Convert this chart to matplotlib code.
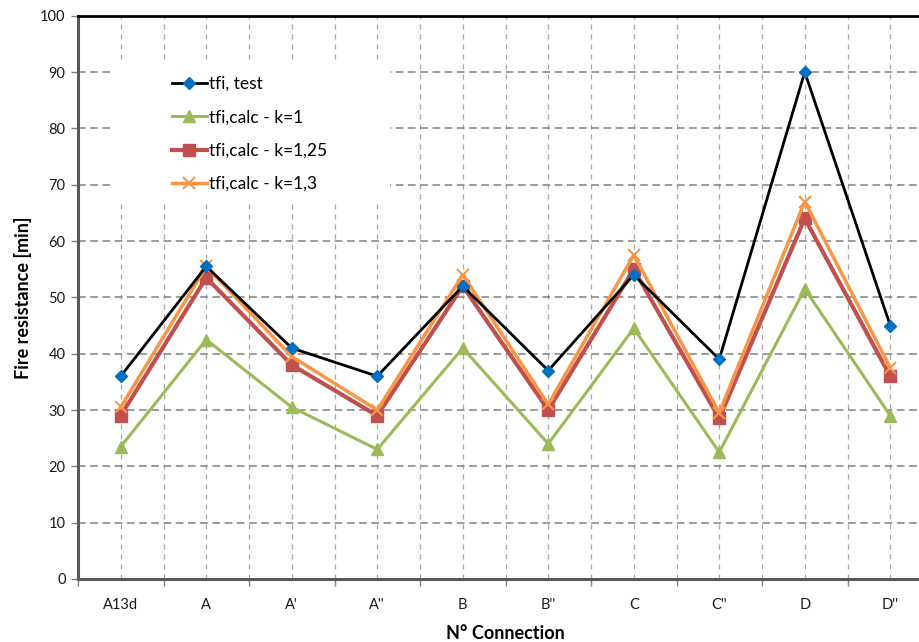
import matplotlib
matplotlib.use("Agg")
import matplotlib.pyplot as plt
from matplotlib.patches import Rectangle
import numpy as np

plt.rcParams['font.family'] = ['Lato', 'DejaVu Sans']

categories = ["A13d", "A", "A'", "A''", "B", "B''", "C", "C''", "D", "D''"]
tfi_test = [36, 55.5, 41, 36, 52, 37, 54, 39, 90, 45]
tfi_k1 = [23.5, 42.5, 30.5, 23, 41, 24, 44.5, 22.5, 51.5, 29]
tfi_k125 = [29, 53.5, 38, 29, 52, 30, 55, 28.5, 64, 36]
tfi_k13 = [30.5, 55.5, 39.5, 30, 54, 31, 57.5, 29.5, 67, 37.5]
series_labels = ["tfi, test", "tfi,calc - k=1", "tfi,calc - k=1,25", "tfi,calc - k=1,3"]

fig = plt.figure(figsize=(9.19, 6.42), dpi=100)
ax = fig.add_axes([78/919, 1-579/642, 855/919, (579-15.7)/642])

x = np.arange(len(categories))

# grid
for v in np.arange(-0.5, len(categories), 0.5):
    ax.axvline(v, color='#a6a6a6', lw=0.9, ls=(0, (4, 4)), zorder=0)
for yv in range(10, 100, 10):
    ax.axhline(yv, color='#808080', lw=1.1, ls=(0, (5, 3)), zorder=0)

# white legend area hiding the grid
ax.add_patch(Rectangle((0.0374, 0.673), 0.328, 0.248, transform=ax.transAxes,
                       facecolor='white', edgecolor='none', zorder=1))

ax.plot(x, tfi_test, color='black', lw=2, marker='D', ms=6,
        mfc='#0070c0', mec='#0070c0', label=series_labels[0], zorder=5)
ax.plot(x, tfi_k1, color='#9bbb59', lw=2.2, marker='^', ms=8,
        mfc='#9bbb59', mec='#9bbb59', label=series_labels[1], zorder=3)
ax.plot(x, tfi_k125, color='#c0504d', lw=3, marker='s', ms=9,
        mfc='#c0504d', mec='#c0504d', label=series_labels[2], zorder=3)
ax.plot(x, tfi_k13, color='#f79646', lw=2.5, marker='x', ms=8, mew=1.5,
        mfc='#f79646', mec='#f79646', label=series_labels[3], zorder=4)

ax.set_xlim(-0.5, len(categories) - 0.5)
ax.set_ylim(0, 100)
ax.set_yticks(range(0, 101, 10))
ax.set_xticks(x)
ax.set_xticklabels(categories)
ax.set_xticks(np.arange(-0.5, len(categories), 1), minor=True)
ax.tick_params(axis='x', which='major', length=0, pad=14, labelsize=10.5, colors='#1a1a1a')
ax.tick_params(axis='x', which='minor', length=5, width=1, color='#808080', direction='out')
ax.tick_params(axis='y', length=5, width=1, color='#808080', pad=4, labelsize=10.5, labelcolor='#1a1a1a')

for s in ['left', 'bottom']:
    ax.spines[s].set_color('#595959')
    ax.spines[s].set_linewidth(2.2)
ax.spines['top'].set_color('black')
ax.spines['top'].set_linewidth(2)
ax.spines['right'].set_visible(False)

ax.set_ylabel("Fire resistance [min]", fontsize=13, fontweight='bold', labelpad=6)
ax.set_xlabel("N° Connection", fontsize=13, fontweight='bold', labelpad=9)

leg = ax.legend(loc='upper left', bbox_to_anchor=(0.11, 0.893), borderaxespad=0,
                fontsize=12.5, labelspacing=1.0, handlelength=2.0, handletextpad=0.1,
                frameon=False, borderpad=0)
leg.set_zorder(2)

fig.savefig("out.png", dpi=100)
